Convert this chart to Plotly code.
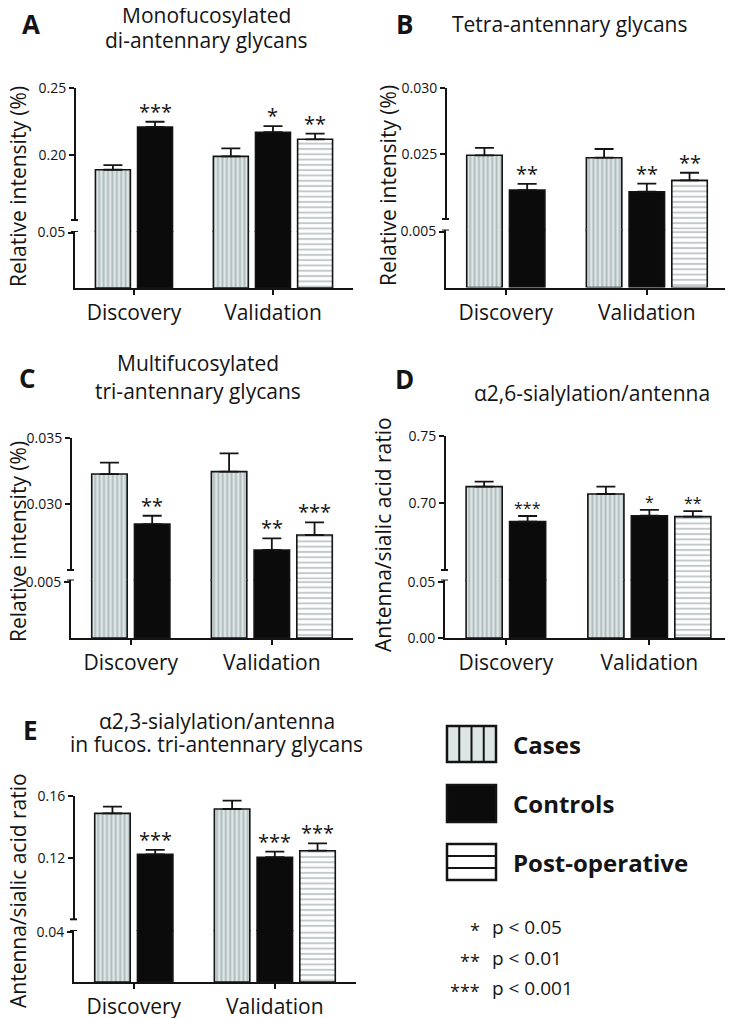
import plotly.graph_objects as go

# page is 733x1018; the html body adds an 8px margin, so the figure is 8px smaller
PAGE_OFF = 8
W, H = 733 - PAGE_OFF, 1018 - PAGE_OFF
FONT = "Open Sans"
INK = "#141414"

# ---------------- data ----------------
groups = ["Discovery", "Validation"]
series_names = ["Cases", "Controls", "Post-operative"]

# A: Monofucosylated di-antennary glycans
a_cases = [0.1890, 0.1990]
a_cases_err = [0.0035, 0.0060]
a_controls = [0.2209, 0.2170]
a_controls_err = [0.0039, 0.0046]
a_postop = [None, 0.2117]
a_postop_err = [None, 0.0042]
a_controls_sig = ["***", "*"]
a_postop_sig = [None, "**"]

# B: Tetra-antennary glycans
b_cases = [0.02490, 0.02472]
b_cases_err = [0.00057, 0.00066]
b_controls = [0.02227, 0.02214]
b_controls_err = [0.00046, 0.00061]
b_postop = [None, 0.02300]
b_postop_err = [None, 0.00058]
b_controls_sig = ["**", "**"]
b_postop_sig = [None, "**"]

# C: Multifucosylated tri-antennary glycans
c_cases = [0.03227, 0.03245]
c_cases_err = [0.00086, 0.00139]
c_controls = [0.02848, 0.02652]
c_controls_err = [0.00063, 0.00088]
c_postop = [None, 0.02765]
c_postop_err = [None, 0.00096]
c_controls_sig = ["**", "**"]
c_postop_sig = [None, "***"]

# D: alpha2,6-sialylation/antenna
d_cases = [0.7122, 0.7067]
d_cases_err = [0.0037, 0.0055]
d_controls = [0.6861, 0.6905]
d_controls_err = [0.0042, 0.0043]
d_postop = [None, 0.6898]
d_postop_err = [None, 0.0042]
d_controls_sig = ["***", "*"]
d_postop_sig = [None, "**"]

# E: alpha2,3-sialylation/antenna in fucos. tri-antennary glycans
e_cases = [0.1488, 0.1516]
e_cases_err = [0.0043, 0.0054]
e_controls = [0.1224, 0.1205]
e_controls_err = [0.0028, 0.0036]
e_postop = [None, 0.1247]
e_postop_err = [None, 0.0048]
e_controls_sig = ["***", "***"]
e_postop_sig = [None, "***"]

# axis tick values (upper segment / lower segment)
a_ticks_upper = [0.20, 0.25]
a_ticks_lower = [0.05]
b_ticks_upper = [0.025, 0.030]
b_ticks_lower = [0.005]
c_ticks_upper = [0.030, 0.035]
c_ticks_lower = [0.005]
d_ticks_upper = [0.70, 0.75]
d_ticks_lower = [0.00, 0.05]
e_ticks_upper = [0.12, 0.16]
e_ticks_lower = [0.04]

p_levels = ["*", "**", "***"]
p_texts = ["p < 0.05", "p < 0.01", "p < 0.001"]

# ---------------- layout geometry (page pixels) ----------------
panels = [
    dict(letter="A", title=["Monofucosylated", "di-antennary glycans"], ytitle="Relative intensity (%)",
         data=[(a_cases, a_cases_err, None), (a_controls, a_controls_err, a_controls_sig), (a_postop, a_postop_err, a_postop_sig)],
         tu=a_ticks_upper, tl=a_ticks_lower, fmt=".2f",
         x0=75, x1=353, pu=(155, 88), brk=220, ltop=231, pl=232.5, base=288,
         letter_xy=(31, 24), title_x=206, title_y=[15, 40], ytitle_xy=(18, 187), star=20),
    dict(letter="B", title=["Tetra-antennary glycans"], ytitle="Relative intensity (%)",
         data=[(b_cases, b_cases_err, None), (b_controls, b_controls_err, b_controls_sig), (b_postop, b_postop_err, b_postop_sig)],
         tu=b_ticks_upper, tl=b_ticks_lower, fmt=".3f",
         x0=446, x1=728, pu=(154, 88), brk=219, ltop=229.5, pl=231.5, base=287.5,
         letter_xy=(404, 24), title_x=570, title_y=[24], ytitle_xy=(388, 186), star=20),
    dict(letter="C", title=["Multifucosylated", "tri-antennary glycans"], ytitle="Relative intensity (%)",
         data=[(c_cases, c_cases_err, None), (c_controls, c_controls_err, c_controls_sig), (c_postop, c_postop_err, c_postop_sig)],
         tu=c_ticks_upper, tl=c_ticks_lower, fmt=".3f",
         x0=71, x1=353, pu=(504, 438), brk=570, ltop=579.5, pl=582, base=638,
         letter_xy=(27, 378), title_x=198, title_y=[363, 391], ytitle_xy=(18, 542), star=20),
    dict(letter="D", title=["α2,6-sialylation/antenna"], ytitle="Antenna/sialic acid ratio",
         data=[(d_cases, d_cases_err, None), (d_controls, d_controls_err, d_controls_sig), (d_postop, d_postop_err, d_postop_sig)],
         tu=d_ticks_upper, tl=d_ticks_lower, fmt=".2f",
         x0=445, x1=732, pu=(503, 436), brk=570, ltop=579.5, pl=582, base=638,
         letter_xy=(404, 379), title_x=592, title_y=[393], ytitle_xy=(383, 535), star=16),
    dict(letter="E", title=["α2,3-sialylation/antenna", "in fucos. tri-antennary glycans"], ytitle="Antenna/sialic acid ratio",
         data=[(e_cases, e_cases_err, None), (e_controls, e_controls_err, e_controls_sig), (e_postop, e_postop_err, e_postop_sig)],
         tu=e_ticks_upper, tl=e_ticks_lower, fmt=".2f",
         x0=74, x1=356, pu=(858, 796), brk=919.3, ltop=930, pl=932, base=982,
         letter_xy=(30, 730), title_x=217, title_y=[721, 744], ytitle_xy=(18, 891), star=20),
]

GROUP_CENTERS = [1.4, 4.7]
X_RANGE = [0, 6.6]
PITCH = 1.0
BAR_W = 0.83

styles = [
    dict(color="#dde5e5", line=dict(color=INK, width=1.6),
         pattern=dict(shape="|", fgcolor="#7f9193", bgcolor="#dde5e5", size=4.4, solidity=0.42)),
    dict(color="#0b0b0b", line=dict(color=INK, width=1.6)),
    dict(color="#ffffff", line=dict(color=INK, width=1.6),
         pattern=dict(shape="-", fgcolor="#86969a", bgcolor="#ffffff", size=5.3, solidity=0.38)),
]


def fx(p):
    return (p - PAGE_OFF) / W


def fy(p):
    return 1 - (p - PAGE_OFF) / H


def aid(prefix, n):
    return prefix if n == 1 else f"{prefix}{n}"


fig = go.Figure()
layout = {}
shapes = []
annotations = []

for k, P in enumerate(panels):
    xn, yun, yln = k + 1, 2 * k + 1, 2 * k + 2
    xid, yuid, ylid = aid("x", xn), aid("y", yun), aid("y", yln)

    # scales
    v1, v2 = P["tu"][0], P["tu"][1]
    p1, p2 = P["pu"]
    s = (v2 - v1) / (p1 - p2)
    up_bottom_px = P["ltop"] + 1.0          # 1px overlap hides the seam between segments
    up_lo = v1 - (up_bottom_px - p1) * s
    up_hi = v2
    brk_val = v1 - (P["brk"] - p1) * s
    lv = P["tl"][-1]
    lo_hi = lv * (P["base"] - P["ltop"]) / (P["base"] - P["pl"])

    present = [[si for si, (vals, _, _) in enumerate(P["data"]) if vals[g] is not None] for g in range(len(groups))]

    for si, (vals, errs, sig) in enumerate(P["data"]):
        xs, ys, es = [], [], []
        for g in range(len(groups)):
            if vals[g] is None:
                continue
            n = len(present[g])
            idx = present[g].index(si)
            xpos = GROUP_CENTERS[g] + (idx - (n - 1) / 2) * PITCH
            xs.append(xpos)
            ys.append(vals[g])
            es.append(errs[g])
            if sig is not None and sig[g]:
                annotations.append(dict(x=xpos, y=vals[g] + errs[g], xref=xid, yref=yuid, text=sig[g],
                                        showarrow=False, yanchor="bottom", yshift=-5,
                                        font=dict(family=FONT, size=P["star"], color=INK)))
        st = styles[si]
        fig.add_trace(go.Bar(x=xs, y=ys, width=BAR_W, xaxis=xid, yaxis=ylid, marker=st,
                             name=series_names[si], showlegend=False))
        fig.add_trace(go.Bar(x=xs, y=ys, width=BAR_W, xaxis=xid, yaxis=yuid, marker=st,
                             name=series_names[si], showlegend=False,
                             error_y=dict(type="data", array=es, arrayminus=[0] * len(es), symmetric=False,
                                          color=INK, thickness=1.8, width=9.5)))

    tickfont = dict(family=FONT, size=14, color=INK)
    layout["xaxis" + ("" if xn == 1 else str(xn))] = dict(
        domain=[fx(P["x0"]), fx(P["x1"])], range=X_RANGE, anchor=ylid, automargin=False,
        tickmode="array", tickvals=GROUP_CENTERS, ticktext=groups, ticks="outside", ticklen=5, tickwidth=2,
        tickcolor=INK, showline=True, linewidth=2, linecolor=INK, showgrid=False, zeroline=False,
        tickfont=dict(family=FONT, size=21, color=INK), ticklabelstandoff=0)
    layout["yaxis" + ("" if yun == 1 else str(yun))] = dict(
        domain=[fy(up_bottom_px), fy(p2)], range=[up_lo, up_hi], anchor=xid, automargin=False,
        tickmode="array", tickvals=P["tu"], ticktext=[format(v, P["fmt"]) for v in P["tu"]],
        ticks="outside", ticklen=5, tickwidth=2, tickcolor=INK, showline=False, showgrid=False,
        zeroline=False, tickfont=tickfont)
    layout["yaxis" + str(yln)] = dict(
        domain=[fy(P["base"]), fy(P["ltop"])], range=[0, lo_hi], anchor=xid, automargin=False,
        tickmode="array", tickvals=P["tl"], ticktext=[format(v, P["fmt"]) for v in P["tl"]],
        ticks="outside", ticklen=5, tickwidth=2, tickcolor=INK, showline=True, linewidth=2, linecolor=INK,
        showgrid=False, zeroline=False, tickfont=tickfont)

    # upper axis line segment with break caps
    shapes.append(dict(type="line", xref=f"{xid} domain", yref=yuid, x0=0, x1=0, y0=brk_val, y1=up_hi,
                       line=dict(color=INK, width=2)))
    shapes.append(dict(type="line", xref=f"{xid} domain", yref=yuid, xsizemode="pixel", xanchor=0,
                       x0=-4, x1=3, y0=brk_val, y1=brk_val, line=dict(color=INK, width=2)))
    shapes.append(dict(type="line", xref=f"{xid} domain", yref=ylid, xsizemode="pixel", xanchor=0,
                       x0=-4, x1=3, y0=lo_hi, y1=lo_hi, line=dict(color=INK, width=2)))

    # panel letter, titles, y title
    annotations.append(dict(x=fx(P["letter_xy"][0]), y=fy(P["letter_xy"][1]), xref="paper", yref="paper",
                            text=f"<b>{P['letter']}</b>", showarrow=False, xanchor="center", yanchor="middle",
                            font=dict(family=FONT, size=26, color=INK)))
    for line, ty in zip(P["title"], P["title_y"]):
        annotations.append(dict(x=fx(P["title_x"]), y=fy(ty), xref="paper", yref="paper", text=line,
                                showarrow=False, xanchor="center", yanchor="middle",
                                font=dict(family=FONT, size=21, color=INK)))
    annotations.append(dict(x=fx(P["ytitle_xy"][0]), y=fy(P["ytitle_xy"][1]), xref="paper", yref="paper",
                            text=P["ytitle"], textangle=-90, showarrow=False, xanchor="center", yanchor="middle",
                            font=dict(family=FONT, size=21, color=INK)))

# ---------------- custom legend ----------------
leg_boxes = [(447, 726, 496, 762), (447, 785, 496, 822), (447, 844, 496, 880)]
for i, (x0, y0, x1, y1) in enumerate(leg_boxes):
    fill = ["#dde5e5", "#0b0b0b", "#ffffff"][i]
    shapes.append(dict(type="rect", xref="paper", yref="paper", x0=fx(x0), x1=fx(x1), y0=fy(y1), y1=fy(y0),
                       fillcolor=fill, line=dict(color=INK, width=2.5)))
    if i == 0:
        for t in (1, 2, 3):
            xv = x0 + (x1 - x0) * t / 4
            shapes.append(dict(type="line", xref="paper", yref="paper", x0=fx(xv), x1=fx(xv), y0=fy(y1), y1=fy(y0),
                               line=dict(color=INK, width=2)))
    if i == 2:
        for t in (1, 2):
            yv = y0 + (y1 - y0) * t / 3
            shapes.append(dict(type="line", xref="paper", yref="paper", x0=fx(x0), x1=fx(x1), y0=fy(yv), y1=fy(yv),
                               line=dict(color=INK, width=2)))
    annotations.append(dict(x=fx(511), y=fy((y0 + y1) / 2), xref="paper", yref="paper",
                            text=f"<b>{series_names[i]}</b>", showarrow=False, xanchor="left", yanchor="middle",
                            font=dict(family=FONT, size=24, color=INK)))

for i, (st, pt) in enumerate(zip(p_levels, p_texts)):
    yc = [927, 958, 988][i]
    annotations.append(dict(x=fx(482), y=fy(yc + 3), xref="paper", yref="paper", text=st, showarrow=False,
                            xanchor="right", yanchor="middle", font=dict(family=FONT, size=18, color=INK)))
    annotations.append(dict(x=fx(490), y=fy(yc), xref="paper", yref="paper", text=pt, showarrow=False,
                            xanchor="left", yanchor="middle", font=dict(family=FONT, size=19, color=INK)))

fig.update_layout(**layout)
fig.update_layout(width=W, height=H, margin=dict(l=0, r=0, t=0, b=0, autoexpand=False), paper_bgcolor="white",
                  plot_bgcolor="rgba(0,0,0,0)", showlegend=False, barmode="overlay",
                  shapes=shapes, annotations=annotations, font=dict(family=FONT, color=INK))

fig.write_html("out.html")
